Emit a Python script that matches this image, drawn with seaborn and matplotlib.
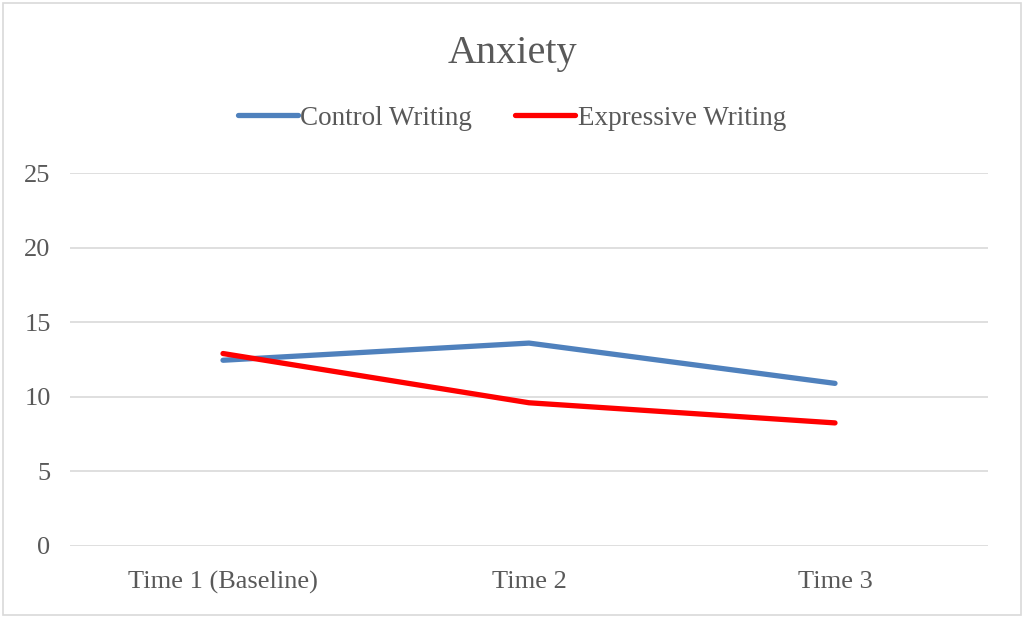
import matplotlib
matplotlib.use("Agg")
import matplotlib.pyplot as plt
import seaborn as sns
import pandas as pd
from matplotlib.patches import Rectangle
from matplotlib.lines import Line2D

times = ["Time 1 (Baseline)", "Time 2", "Time 3"]
control = [12.45, 13.6, 10.9]
expressive = [12.9, 9.6, 8.25]
yticks = [0, 5, 10, 15, 20, 25]

df = pd.DataFrame({
    "Time": times * 2,
    "Score": control + expressive,
    "Group": ["Control Writing"] * 3 + ["Expressive Writing"] * 3,
})

sns.set_theme(style="white")
plt.rcParams["font.family"] = ["Liberation Serif", "DejaVu Serif"]

fig = plt.figure(figsize=(10.24, 6.18), dpi=100)
ax = fig.add_axes([70/1024, 1-546/618, (988-70)/1024, (546-173)/618])

palette = {"Control Writing": "#4F81BD", "Expressive Writing": "#FF0000"}
sns.lineplot(data=df, x="Time", y="Score", hue="Group", palette=palette,
             linewidth=3.8, ax=ax, sort=False, legend=False,
             solid_capstyle="round", solid_joinstyle="round")

ax.set_xlim(-0.5, 2.5)
ax.set_ylim(0, 25)
ax.set_yticks(yticks)
ax.set_yticklabels([str(v) for v in yticks])
ax.yaxis.grid(True, color="#D9D9D9", linewidth=1.2)
ax.set_axisbelow(True)
for s in ax.spines.values():
    s.set_visible(False)
ax.tick_params(axis="both", length=0, labelsize=19, colors="#595959")
ax.tick_params(axis="y", pad=14)
ax.tick_params(axis="x", pad=18)
ax.set_xlabel("")
ax.set_ylabel("")

fig.text(0.5, 1-53/618, "Anxiety", ha="center", va="center", fontsize=29, color="#595959")

handles = [Line2D([], [], color=palette[g], linewidth=3.8, solid_capstyle="round") for g in palette]
fig.legend(handles, list(palette.keys()), loc="center", bbox_to_anchor=(0.5, 1-118/618),
           ncol=2, frameon=False, fontsize=19.5, labelcolor="#595959",
           handlelength=2.2, handletextpad=0.1, columnspacing=1.6)

fig.patches.append(Rectangle((3/1024, 3/618), 1-6/1024, 1-6/618, transform=fig.transFigure,
                             fill=False, edgecolor="#D9D9D9", linewidth=1.2))

fig.savefig("out.png", dpi=100, facecolor="white")
